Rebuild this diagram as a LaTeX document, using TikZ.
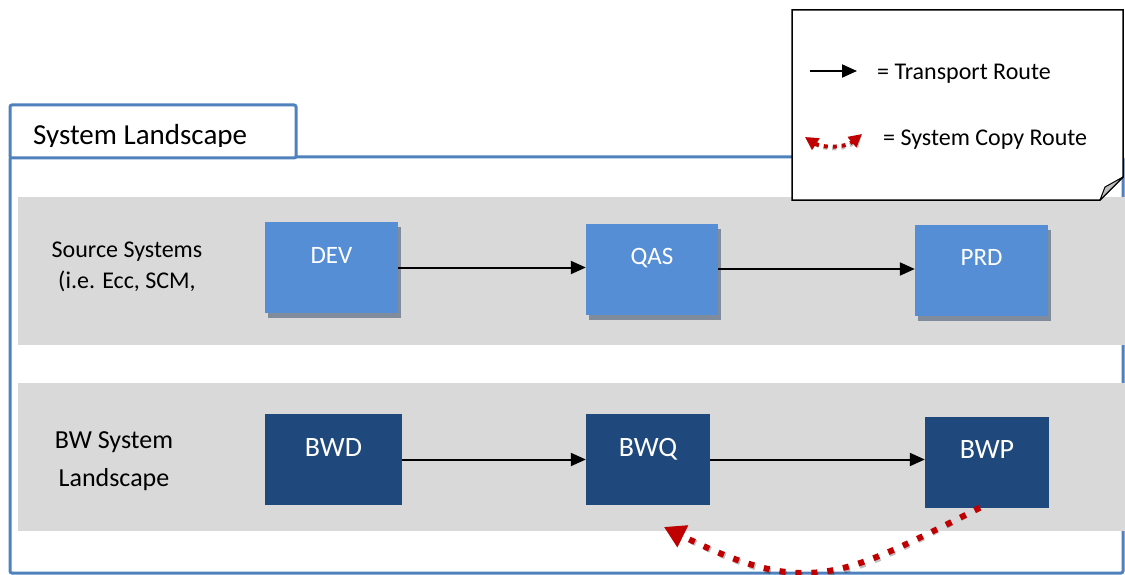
\documentclass[tikz,border=0pt]{standalone}
\usepackage{fontspec}
\setmainfont{Carlito}
\usetikzlibrary{arrows.meta,shadows}
\definecolor{frameblue}{HTML}{4F81BD}
\definecolor{srcblue}{HTML}{558ED5}
\definecolor{bwblue}{HTML}{1F497D}
\definecolor{bandgray}{HTML}{D9D9D9}
\definecolor{boxshade}{HTML}{808B9B}
\definecolor{copyred}{HTML}{C00000}
\begin{document}
\begin{tikzpicture}[x=1pt,y=-1pt,
  frame/.style={draw=frameblue,line width=3pt,rounded corners=2pt},
  band/.style={fill=bandgray},
  srcbox/.style={fill=srcblue,text=white,inner sep=0pt,text height=41pt,text depth=50pt,
    font=\fontsize{25}{30}\selectfont,
    drop shadow={shadow xshift=3pt,shadow yshift=-5pt,fill=boxshade,opacity=1}},
  bwbox/.style={fill=bwblue,text=white,inner sep=0pt,text height=42pt,text depth=49pt,
    font=\fontsize{28}{33}\selectfont},
  transport/.style={line width=2pt,-{Triangle[length=15pt,width=13pt]}},
  copyroute/.style={draw=copyred,line width=6pt,dash pattern=on 6pt off 10pt},
  shade/.style={draw=black,opacity=0.25,line width=6pt,dash pattern=on 6pt off 10pt},
  rowlabel/.style={align=center,inner sep=0pt}
]
\useasboundingbox (0,0) rectangle (1125,575);

% landscape frame and its tab
\draw[frame] (10,157) rectangle (1123,573);
\draw[frame,fill=white] (10,105) rectangle (296,158);
\begin{scope}
  \clip (12,107) rectangle (294,147);
  \node[anchor=base west,inner sep=0pt,font=\fontsize{29}{35}\selectfont] (title) at (33,145) {System Landscape};
\end{scope}

% the two landscape bands
\fill[band] (18,197) rectangle (1125,345);
\fill[band] (18,383) rectangle (1125,531);

% row labels
\node[rowlabel,font=\fontsize{24}{31}\selectfont] (srclabel) at (127,267) {Source Systems\\(i.e. Ecc, SCM,};
\node[rowlabel,font=\fontsize{26}{38}\selectfont] (bwlabel) at (114,461) {BW System\\Landscape};

% source systems
\node[srcbox,minimum width=133pt] (DEV) at (331.5,267.5) {DEV};
\node[srcbox,minimum width=132pt] (QAS) at (652,269) {QAS};
\node[srcbox,minimum width=133pt] (PRD) at (981.5,270) {PRD};

% BW systems
\node[bwbox,minimum width=137pt] (BWD) at (333.5,459.5) {BWD};
\node[bwbox,minimum width=124pt] (BWQ) at (648,459.5) {BWQ};
\node[bwbox,minimum width=124pt] (BWP) at (987,462) {BWP};

% transport routes
\draw[transport] (DEV.east) -- (DEV.east -| QAS.west);
\draw[transport] (QAS.east) -- (QAS.east -| PRD.west);
\draw[transport] (BWD.east) -- (BWD.east -| BWQ.west);
\draw[transport] (BWQ.east) -- (BWQ.east -| BWP.west);

% system copy route BWP -> BWQ
\coordinate (cs) at ([xshift=-7pt]BWP.south);
\coordinate (ce) at (664,527);
\begin{scope}[xshift=2pt,yshift=-3pt]
  \draw[shade,-{Triangle[length=21pt,width=23pt]}] (cs) .. controls (840,578) and (808,598) .. (ce);
\end{scope}
\draw[copyroute,-{Triangle[length=21pt,width=23pt]}] (cs) .. controls (840,578) and (808,598) .. (ce);

% legend note with folded corner
\draw[line width=1.5pt,fill=white] (792,10) -- (1123,10) -- (1123,177) -- (1100,200) -- (792,200) -- cycle;
\draw[line width=1pt,fill=black!25,line join=round] (1100,200) -- (1105,187) -- (1123,177) -- cycle;

\coordinate (ta) at (810,71);
\coordinate (tb) at (857,71);
\draw[transport] (ta) -- (tb);
\node[anchor=base west,inner sep=0pt,font=\fontsize{24}{29}\selectfont] (leg1) at (877,80) {= Transport Route};

\coordinate (ca) at (805,137);
\coordinate (cb) at (862,134);
\begin{scope}[xshift=1.5pt,yshift=-2pt]
  \draw[draw=black,opacity=0.25,line width=4pt,dash pattern=on 4pt off 5pt,
    {Triangle[length=13pt,width=13pt]}-{Triangle[length=13pt,width=13pt]}]
    (ca) .. controls (822,148) and (845,148) .. (cb);
\end{scope}
\draw[draw=copyred,line width=4pt,dash pattern=on 4pt off 5pt,
  {Triangle[length=13pt,width=13pt]}-{Triangle[length=13pt,width=13pt]}]
  (ca) .. controls (822,148) and (845,148) .. (cb);
\node[anchor=base west,inner sep=0pt,font=\fontsize{24}{29}\selectfont] (leg2) at (883,146) {= System Copy Route};
\end{tikzpicture}
\end{document}
